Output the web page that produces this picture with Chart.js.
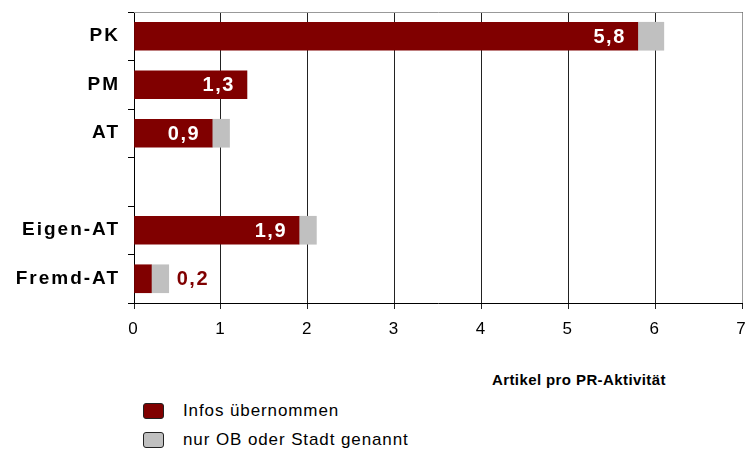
<!DOCTYPE html>
<html>
<head>
<meta charset="utf-8">
<script src="https://cdn.jsdelivr.net/npm/chart.js@4"></script>
<style>
  body { margin: 0; background: #fff; font-family: "Liberation Sans", Arial, sans-serif; }
  #wrap { position: relative; width: 748px; height: 453px; }
  #box { position: absolute; left: 0; top: 0; width: 748px; height: 345px; }
  .axis-title { position: absolute; left: 492px; top: 371px; font-weight: bold; font-size: 15px; letter-spacing: 0.4px; color: #000; }
  .leg { position: absolute; left: 143px; font-size: 17px; letter-spacing: 0.9px; color: #000; }
  .leg span.sw { position: absolute; left: 0; top: 0; width: 19px; height: 14px; border: 1px solid #222; border-radius: 3px; }
  .leg span.tx { position: absolute; left: 40px; top: -2px; white-space: nowrap; }
</style>
</head>
<body>
<div id="wrap">
  <div id="box"><canvas id="chart"></canvas></div>
  <div class="axis-title">Artikel pro PR-Aktivität</div>
  <div class="leg" style="top:403px"><span class="sw" style="background:#800000"></span><span class="tx">Infos übernommen</span></div>
  <div class="leg" style="top:432px"><span class="sw" style="background:#c0c0c0"></span><span class="tx">nur OB oder Stadt genannt</span></div>
</div>
<script>
const categories = ['PK', 'PM', 'AT', '', 'Eigen-AT', 'Fremd-AT'];
const infosUebernommen = [5.8, 1.3, 0.9, null, 1.9, 0.2];
const nurOBoderStadt = [0.3, 0, 0.2, null, 0.2, 0.2];
const xTicks = [0, 1, 2, 3, 4, 5, 6, 7];

// frame on top and right, value labels on the maroon bars
const extras = {
    id: 'extras',
    beforeDraw(chart) {
        chart.ctx.letterSpacing = '2px';
    },
    afterDraw(chart) {
        const ctx = chart.ctx;
        const a = chart.chartArea;
        ctx.save();
        ctx.strokeStyle = '#999';
        ctx.lineWidth = 1;
        ctx.beginPath();
        ctx.moveTo(a.left, a.top + 0.5);
        ctx.lineTo(Math.round(a.right) + 0.5, a.top + 0.5);
        ctx.lineTo(Math.round(a.right) + 0.5, a.bottom);
        ctx.stroke();

        const x = chart.scales.x;
        const bars = chart.getDatasetMeta(0).data;
        ctx.font = 'bold 20px "Liberation Sans", Arial, sans-serif';
        ctx.letterSpacing = '1.5px';
        ctx.textBaseline = 'middle';
        infosUebernommen.forEach((v, i) => {
            if (v == null) return;
            const bar = bars[i];
            const txt = v.toFixed(1).replace('.', ',');
            if (v < 0.5) {
                const total = v + (nurOBoderStadt[i] || 0);
                ctx.fillStyle = '#800000';
                ctx.textAlign = 'left';
                ctx.fillText(txt, x.getPixelForValue(total) + 8, bar.y + 1);
            } else {
                ctx.fillStyle = '#fff';
                ctx.textAlign = 'right';
                ctx.fillText(txt, bar.x - 12, bar.y + 1);
            }
        });
        ctx.restore();
    }
};

new Chart(document.getElementById('chart'), {
    type: 'bar',
    data: {
        labels: categories,
        datasets: [{
            label: 'Infos übernommen',
            data: infosUebernommen,
            backgroundColor: '#800000',
            barThickness: 28
        }, {
            label: 'nur OB oder Stadt genannt',
            data: nurOBoderStadt,
            backgroundColor: '#c0c0c0',
            barThickness: 28
        }]
    },
    options: {
        indexAxis: 'y',
        responsive: true,
        maintainAspectRatio: false,
        animation: false,
        layout: { padding: { top: 12, right: 6, left: 0, bottom: 0 } },
        plugins: {
            legend: { display: false },
            tooltip: { enabled: false }
        },
        scales: {
            x: {
                stacked: true,
                min: 0,
                max: 7,
                afterBuildTicks: (scale) => { scale.ticks = xTicks.map(v => ({ value: v })); },
                afterFit: (scale) => {
                    scale.height = 42;
                    scale.paddingLeft = 0;
                    scale.paddingRight = 0;
                },
                ticks: {
                    color: '#000',
                    padding: 10,
                    font: { family: '"Liberation Sans", Arial, sans-serif', size: 17 }
                },
                grid: { color: '#222', lineWidth: 1, tickLength: 6, drawTicks: true },
                border: { color: '#000', width: 1 }
            },
            y: {
                stacked: true,
                afterFit: (scale) => {
                    scale.width = 134;
                    scale.paddingTop = 0;
                    scale.paddingBottom = 0;
                },
                ticks: {
                    color: '#000',
                    padding: 8,
                    font: { family: '"Liberation Sans", Arial, sans-serif', size: 19, weight: 'bold' }
                },
                grid: { drawOnChartArea: false, drawTicks: true, tickLength: 6, color: '#000' },
                border: { color: '#000', width: 1 }
            }
        }
    },
    plugins: [extras]
});
</script>
</body>
</html>
